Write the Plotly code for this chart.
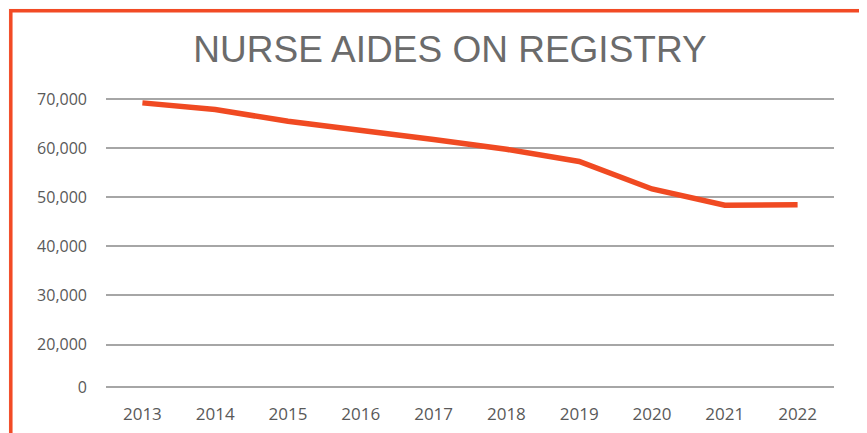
import plotly.graph_objects as go

years = ["2013", "2014", "2015", "2016", "2017", "2018", "2019", "2020", "2021", "2022"]
aides = [69250, 67900, 65500, 63700, 61800, 59800, 57300, 51700, 48400, 48500]

tick_vals = [11280, 20000, 30000, 40000, 50000, 60000, 70000]
tick_text = ["0", "20,000", "30,000", "40,000", "50,000", "60,000", "70,000"]

# page body has an 8px margin, so the figure is placed at (8, 8) in the window
OFF = 8
W, H = 867 - OFF, 433 - OFF
L, R, T, B = 98, 33, 86, 43
pw, ph = W - L - R, H - T - B

def px_x(p):  # window pixel -> paper x
    return (p - OFF - L) / pw

def px_y(p):  # window pixel -> paper y
    return (H - B - (p - OFF)) / ph

fig = go.Figure()
fig.add_trace(go.Scatter(
    x=years, y=aides, mode="lines",
    line=dict(color="#f04a22", width=5.5),
    hoverinfo="x+y", showlegend=False,
))

fig.add_shape(type="rect", xref="paper", yref="paper",
              x0=px_x(10.8), x1=px_x(863.2), y0=px_y(460), y1=px_y(10.8),
              line=dict(color="#f24a25", width=3.5), fillcolor="white",
              layer="below")

fig.update_layout(
    width=W, height=H,
    margin=dict(l=L, r=R, t=T, b=B),
    paper_bgcolor="#fdfaf7",
    plot_bgcolor="rgba(0,0,0,0)",
    title=dict(text="NURSE AIDES ON REGISTRY", x=(450 - OFF) / W, xanchor="center",
               y=1 - (49 - OFF) / H, yanchor="middle",
               font=dict(family="Liberation Sans", size=37, color="#6b6b6b")),
    xaxis=dict(type="category", range=[-0.5, 9.5], showgrid=False,
               showline=False, zeroline=False, ticks="", automargin=False,
               ticklabelstandoff=12,
               tickfont=dict(family="Open Sans", size=17, color="#595959")),
    yaxis=dict(range=[10726, 71060], tickvals=tick_vals, ticktext=tick_text,
               showgrid=True, gridcolor="#a6a6a6", gridwidth=1.5,
               zeroline=False, showline=False, ticks="", automargin=False,
               ticklabelstandoff=18,
               tickfont=dict(family="Open Sans", size=16, color="#595959")),
)

fig.write_html("out.html")
